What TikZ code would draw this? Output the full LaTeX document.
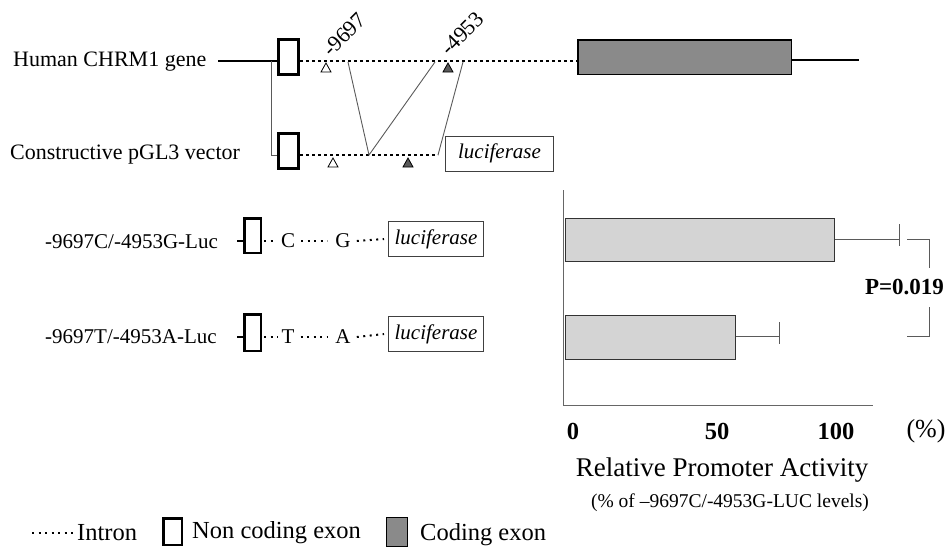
\documentclass[tikz,border=0pt]{standalone}
\usepackage{fontspec}
\setmainfont{Liberation Serif}
\definecolor{codegray}{RGB}{138,138,138}
\definecolor{bargray}{RGB}{212,212,212}
\definecolor{linegray}{RGB}{90,90,90}
\begin{document}
\begin{tikzpicture}[x=1pt,y=-1pt,
  txt/.style={inner sep=0pt, font=\fontsize{21}{25}\selectfont},
  bigtxt/.style={inner sep=0pt, font=\fontsize{22}{26}\selectfont},
  legtxt/.style={inner sep=0pt, font=\fontsize{24.5}{28}\selectfont},
  boldtxt/.style={inner sep=0pt, font=\fontsize{24.5}{28}\selectfont\bfseries},
  ncexon/.style={draw=black, line width=3pt, fill=white, minimum width=20pt, minimum height=35pt, inner sep=0pt},
  ncexonsm/.style={draw=black, line width=2.5pt, fill=white, minimum width=16.5pt, inner sep=0pt},
  cexon/.style={draw=black, line width=1.5pt, fill=codegray, inner sep=0pt},
  lucbox/.style={draw=black!75, line width=1pt, fill=white, inner sep=0pt, minimum width=95pt, minimum height=35pt, font=\fontsize{21}{25}\selectfont\itshape},
  intron/.style={line width=2.5pt, dash pattern=on 2.5pt off 3.5pt},
  sintron/.style={line width=2pt, dash pattern=on 2pt off 4.5pt},
  solidline/.style={line width=2.5pt},
  conn/.style={line width=0.9pt, draw=linegray},
  bar/.style={draw=black!80, line width=1.2pt, fill=bargray, inner sep=0pt},
  errl/.style={line width=1pt, draw=linegray},
  axisl/.style={line width=1pt, draw=black!60},
  opentri/.style={draw=black, line width=0.8pt, fill=white},
  filltri/.style={draw=black, line width=0.8pt, fill=black!65},
  sitelbl/.style={inner sep=0pt, font=\fontsize{22}{26}\selectfont, rotate=45, anchor=base west},
]
\useasboundingbox (0,0) rectangle (949,549);

% ---------- Row 1: Human CHRM1 gene ----------
\node[bigtxt, anchor=west] (t1) at (13,62) {Human CHRM1 gene};
\coordinate (l1s) at (218,61);
\node[ncexon] (e1) at (288.5,57) {};
\node[cexon, minimum width=213.5pt, minimum height=34.5pt] (ce) at (684.5,57) {};
\coordinate (l1e) at (859,60);
\draw[solidline] (l1s) -- (e1.west |- l1s);
\draw[intron] (e1.east |- l1s) -- (ce.west |- l1s);
\draw[solidline] (ce.east |- l1e) -- (l1e);
\draw[opentri] (326,63) -- (331,72) -- (321,72) -- cycle;
\draw[filltri] (448,63) -- (453,72) -- (443,72) -- cycle;
\node[sitelbl] (m1) at (331,58) {-9697};
\node[sitelbl] (m2) at (449,57) {-4953};

% ---------- Row 2: Constructive pGL3 vector ----------
\node[bigtxt, anchor=west] (t2) at (10,155) {Constructive pGL3 vector};
\node[ncexon] (e2) at (288.5,150.5) {};
\node[lucbox, minimum width=108pt] (lc2) at (499.5,153.5) {luciferase};
\coordinate (d2e) at (438,155);
\draw[intron] (e2.east |- d2e) -- (d2e);
\draw[opentri] (333,158) -- (338,167) -- (328,167) -- cycle;
\draw[filltri] (408,158) -- (413,167) -- (403,167) -- cycle;
% connectors between rows
\coordinate (v1) at (271,61);
\draw[conn] (v1) |- (e2.west |- d2e);
\coordinate (p1) at (348,62);
\coordinate (p2) at (369,155);
\coordinate (p3) at (435,62);
\coordinate (p4) at (463,62);
\coordinate (p5) at (438,155);
\draw[conn] (p1) -- (p2) -- (p3);
\draw[conn] (p4) -- (p5);

% ---------- Row 3 ----------
\node[txt, anchor=west] (t3) at (45,242) {-9697C/-4953G-Luc};
\node[ncexonsm, minimum height=34.5pt] (e3) at (252.5,235.5) {};
\coordinate (s3) at (237,241);
\draw[line width=2pt] (s3) -- (e3.west |- s3);
\node[txt] (c3) at (288,241) {C};
\node[txt] (g3) at (343,241) {G};
\node[lucbox] (lc3) at (436,239) {luciferase};
\draw[sintron] (e3.east |- c3) ++(2,0) -- ([xshift=-4pt]c3.west);
\draw[sintron] ([xshift=6pt]c3.east) -- ([xshift=-8pt]g3.west);
\draw[sintron] ([xshift=6pt]g3.east) -- ([xshift=-4pt]lc3.west);

% ---------- Row 4 ----------
\node[txt, anchor=west] (t4) at (45,337) {-9697T/-4953A-Luc};
\node[ncexonsm, minimum height=36.5pt] (e4) at (252.5,332.5) {};
\coordinate (s4) at (237,337);
\draw[line width=2pt] (s4) -- (e4.west |- s4);
\node[txt] (c4) at (288,337) {T};
\node[txt] (g4) at (343,337) {A};
\node[lucbox] (lc4) at (436,334) {luciferase};
\draw[sintron] (e4.east |- c4) ++(2,0) -- ([xshift=-4pt]c4.west);
\draw[sintron] ([xshift=6pt]c4.east) -- ([xshift=-8pt]g4.west);
\draw[sintron] ([xshift=6pt]g4.east) -- ([xshift=-4pt]lc4.west);

% ---------- Bar chart ----------
\coordinate (ay) at (563,190);
\coordinate (ao) at (563,405);
\coordinate (ax) at (873,405);
\draw[axisl] (ay) -- (ao) -- (ax);
\node[bar, minimum width=269pt, minimum height=43pt] (b1) at (700,240) {};
\node[bar, minimum width=170pt, minimum height=44pt] (b2) at (650.5,337.5) {};
\coordinate (eb1) at (899,239);
\coordinate (eb2) at (779,336);
\draw[errl] (b1.east |- eb1) -- (eb1);
\draw[errl] (899,224) -- (899,246);
\draw[errl] (b2.east |- eb2) -- (eb2);
\draw[errl] (779,322) -- (779,344);
\node[inner sep=0pt, font=\fontsize{23}{27}\selectfont\bfseries] (pv) at (904.5,287) {P=0.019};
\coordinate (bk1) at (907,239);
\coordinate (bk2) at (907,336);
\draw[errl] (bk1) -- (929,239) -- (929,268);
\draw[errl] (929,307) -- (929,336) -- (bk2);

\node[boldtxt] (x0) at (573,431) {0};
\node[boldtxt] (x50) at (717,431) {50};
\node[boldtxt] (x100) at (836,431) {100};
\node[inner sep=0pt, font=\fontsize{26}{30}\selectfont] (xp) at (926,431) {(\%)};
\node[inner sep=0pt, font=\fontsize{27}{31}\selectfont] (xl) at (722,470) {Relative Promoter Activity};
\node[inner sep=0pt, font=\fontsize{19.5}{23}\selectfont] (xl2) at (730,503) {(\% of –9697C/-4953G-LUC levels)};

% ---------- Legend ----------
\coordinate (ld) at (32,533);
\node[legtxt, anchor=west] (lint) at (77,533) {Intron};
\draw[sintron] (ld) -- (lint.west |- ld);
\node[draw=black, line width=2.5pt, fill=white, minimum width=18.5pt, minimum height=26.5pt, inner sep=0pt] (lnc) at (172.5,531.5) {};
\node[legtxt, anchor=west] (lnct) at (192,533) {Non coding exon};
\node[draw=black, line width=1pt, fill=codegray, minimum width=21pt, minimum height=29pt, inner sep=0pt] (lc) at (397,532) {};
\node[legtxt, anchor=west] (lct) at (420,535) {Coding exon};
\end{tikzpicture}
\end{document}
